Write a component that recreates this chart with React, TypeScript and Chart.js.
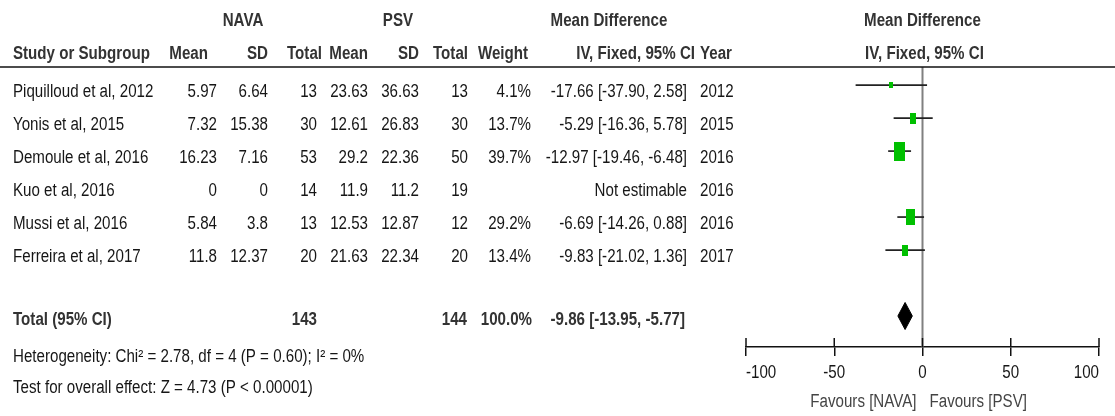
import React, { useEffect, useRef } from "react";
import { Chart, registerables } from "chart.js";
Chart.register(...registerables);

// ---------- data ----------
const studies = [
  "Piquilloud et al, 2012",
  "Yonis et al, 2015",
  "Demoule et al, 2016",
  "Kuo et al, 2016",
  "Mussi et al, 2016",
  "Ferreira et al, 2017",
];
const navaMean = ["5.97", "7.32", "16.23", "0", "5.84", "11.8"];
const navaSD = ["6.64", "15.38", "7.16", "0", "3.8", "12.37"];
const navaTotal = [13, 30, 53, 14, 13, 20];
const psvMean = ["23.63", "12.61", "29.2", "11.9", "12.53", "21.63"];
const psvSD = ["36.63", "26.83", "22.36", "11.2", "12.87", "22.34"];
const psvTotal = [13, 30, 50, 19, 12, 20];
const weights: (number | null)[] = [4.1, 13.7, 39.7, null, 29.2, 13.4];
const meanDiff: (number | null)[] = [-17.66, -5.29, -12.97, null, -6.69, -9.83];
const ciLow: (number | null)[] = [-37.9, -16.36, -19.46, null, -14.26, -21.02];
const ciHigh: (number | null)[] = [2.58, 5.78, -6.48, null, 0.88, 1.36];
const years = [2012, 2015, 2016, 2016, 2016, 2017];

const totalNava = 143;
const totalPsv = 144;
const totalWeight = "100.0%";
const totalMD = -9.86;
const totalLow = -13.95;
const totalHigh = -5.77;
const totalRow = 7;

const xTicks = [-100, -50, 0, 50, 100];
const heterogeneityText = "Heterogeneity: Chi\u00b2 = 2.78, df = 4 (P = 0.60); I\u00b2 = 0%";
const overallText = "Test for overall effect: Z = 4.73 (P < 0.00001)";
const favoursLeft = "Favours [NAVA]";
const favoursRight = "Favours [PSV]";

// ---------- style ----------
const FONT = '"Liberation Sans", Arial, sans-serif';
const FS = 18;
const SX = 0.84; // horizontal condensing (Arial Narrow look)
const GREEN = "#00c000";

export default function App() {
  const ref = useRef<HTMLCanvasElement>(null);

  useEffect(() => {
    document.body.style.margin = "0";
    const canvas = ref.current!;

    const makeBox = (w: number) => {
      const c = document.createElement("canvas");
      c.width = Math.max(2, Math.round(1.75 * Math.sqrt(w)));
      c.height = Math.max(3, Math.round(3 * Math.sqrt(w)));
      const cx = c.getContext("2d")!;
      cx.fillStyle = GREEN;
      cx.fillRect(0, 0, c.width, c.height);
      return c;
    };

    const idx = studies.map((_, i) => i).filter((i) => meanDiff[i] != null);
    const boxes = idx.map((i) => makeBox(weights[i] as number));

    const datasets: any[] = [];
    datasets.push({
      label: "est",
      data: idx.map((i) => ({ x: meanDiff[i], y: i })),
      pointStyle: (c: any) => boxes[c.dataIndex],
      pointRadius: 5,
      showLine: false,
      clip: false,
    });
    datasets.push({
      label: "diamond",
      data: [
        { x: totalLow, y: totalRow },
        { x: totalMD, y: totalRow - 0.41 },
        { x: totalHigh, y: totalRow },
        { x: totalMD, y: totalRow + 0.41 },
        { x: totalLow, y: totalRow },
      ],
      showLine: true,
      fill: "shape",
      backgroundColor: "#000",
      borderColor: "#000",
      borderWidth: 1,
      pointRadius: 0,
      tension: 0,
      clip: false,
    });
    idx.forEach((i) => {
      datasets.push({
        label: "ci" + i,
        data: [
          { x: ciLow[i], y: i },
          { x: ciHigh[i], y: i },
        ],
        showLine: true,
        borderColor: "#222",
        borderWidth: 1.7,
        pointRadius: 0,
        clip: false,
      });
    });

    const tablePlugin = {
      id: "table",
      beforeDatasetsDraw(chart: any) {
        const ctx = chart.ctx;
        const xs = chart.scales.x;
        const area = chart.chartArea;
        const x0 = xs.getPixelForValue(0);
        ctx.save();
        ctx.strokeStyle = "#808080";
        ctx.lineWidth = 2;
        ctx.beginPath();
        ctx.moveTo(x0, area.top);
        ctx.lineTo(x0, area.bottom);
        ctx.stroke();
        ctx.restore();
      },
      afterDraw(chart: any) {
        const ctx = chart.ctx;
        const xs = chart.scales.x;
        const ys = chart.scales.y;
        const area = chart.chartArea;
        ctx.save();
        // header rule
        ctx.strokeStyle = "#111";
        ctx.lineWidth = 1.6;
        ctx.beginPath();
        ctx.moveTo(0, area.top);
        ctx.lineTo(chart.width, area.top);
        ctx.stroke();
        // upper halves of the axis ticks
        ctx.lineWidth = 1.5;
        xTicks.forEach((v) => {
          const px = xs.getPixelForValue(v);
          ctx.beginPath();
          ctx.moveTo(px, area.bottom - 9);
          ctx.lineTo(px, area.bottom);
          ctx.stroke();
        });

        const txt = (s: string, x: number, y: number, align: CanvasTextAlign, bold = false, color = "#161616") => {
          ctx.save();
          ctx.font = `${bold ? "bold " : ""}${FS}px ${FONT}`;
          ctx.textAlign = align;
          ctx.textBaseline = "middle";
          ctx.fillStyle = color;
          ctx.translate(x, y);
          ctx.scale(SX, 1);
          ctx.fillText(s, 0, 0);
          ctx.restore();
        };
        const H = "#333";
        const h1 = area.top - 46;
        const h2 = area.top - 13;
        txt("NAVA", 243, h1, "center", true, H);
        txt("PSV", 398, h1, "center", true, H);
        txt("Mean Difference", 609, h1, "center", true, H);
        txt("Mean Difference", xs.getPixelForValue(0), h1, "center", true, H);
        txt("Study or Subgroup", 13, h2, "left", true, H);
        txt("Mean", 208, h2, "right", true, H);
        txt("SD", 268, h2, "right", true, H);
        txt("Total", 322, h2, "right", true, H);
        txt("Mean", 368, h2, "right", true, H);
        txt("SD", 419, h2, "right", true, H);
        txt("Total", 468, h2, "right", true, H);
        txt("Weight", 528, h2, "right", true, H);
        txt("IV, Fixed, 95% CI", 695, h2, "right", true, H);
        txt("Year", 700, h2, "left", true, H);
        txt("IV, Fixed, 95% CI", xs.getPixelForValue(0) + 2, h2, "center", true, H);

        studies.forEach((s, i) => {
          const y = ys.getPixelForValue(i) + 7;
          txt(s, 13, y, "left");
          txt(navaMean[i], 217, y, "right");
          txt(navaSD[i], 268, y, "right");
          txt(String(navaTotal[i]), 317, y, "right");
          txt(psvMean[i], 368, y, "right");
          txt(psvSD[i], 419, y, "right");
          txt(String(psvTotal[i]), 468, y, "right");
          if (weights[i] != null) txt((weights[i] as number).toFixed(1) + "%", 531, y, "right");
          const ci =
            meanDiff[i] == null
              ? "Not estimable"
              : `${(meanDiff[i] as number).toFixed(2)} [${(ciLow[i] as number).toFixed(2)}, ${(ciHigh[i] as number).toFixed(2)}]`;
          txt(ci, 687, y, "right");
          txt(String(years[i]), 700, y, "left");
        });

        const ty = ys.getPixelForValue(totalRow) + 4;
        txt("Total (95% CI)", 13, ty, "left", true, H);
        txt(String(totalNava), 317, ty, "right", true, H);
        txt(String(totalPsv), 467, ty, "right", true, H);
        txt(totalWeight, 532, ty, "right", true, H);
        txt(`${totalMD.toFixed(2)} [${totalLow.toFixed(2)}, ${totalHigh.toFixed(2)}]`, 685, ty, "right", true, H);

        txt(heterogeneityText, 13, ty + 37, "left");
        txt(overallText, 13, ty + 68, "left");

        // axis tick labels (inner-aligned at the ends)
        const ly = area.bottom + 26;
        xTicks.forEach((v, k) => {
          const px = xs.getPixelForValue(v);
          const al: CanvasTextAlign = k === 0 ? "left" : k === xTicks.length - 1 ? "right" : "center";
          txt(String(v), px, ly, al);
        });

        const fy = area.bottom + 55;
        const x0 = xs.getPixelForValue(0);
        txt(favoursLeft, x0 - 6, fy, "right", false, "#444");
        txt(favoursRight, x0 + 7, fy, "left", false, "#444");
        ctx.restore();
      },
    };

    const chart = new Chart(canvas, {
      type: "scatter",
      data: { datasets },
      options: {
        animation: false,
        responsive: false,
        devicePixelRatio: 1,
        layout: { padding: { left: 746, right: 16, top: 67, bottom: 19 } },
        plugins: { legend: { display: false }, tooltip: { enabled: false } },
        scales: {
          x: {
            type: "linear",
            min: -100,
            max: 100,
            afterBuildTicks: (s: any) => {
              s.ticks = xTicks.map((v) => ({ value: v }));
            },
            afterFit: (s: any) => {
              s.height = 50;
            },
            border: { display: true, color: "#111", width: 1.5 },
            grid: { drawOnChartArea: false, drawTicks: true, tickLength: 9, color: "#111", lineWidth: 1.5 },
            ticks: { display: false },
          },
          y: {
            type: "linear",
            display: false,
            reverse: true,
            min: -0.55,
            max: 7.94,
          },
        },
      },
      plugins: [tablePlugin],
    } as any);

    return () => chart.destroy();
  }, []);

  return (
    <div style={{ width: 1115, height: 416, background: "#fff" }}>
      <canvas ref={ref} width={1115} height={416} style={{ display: "block" }} />
    </div>
  );
}
